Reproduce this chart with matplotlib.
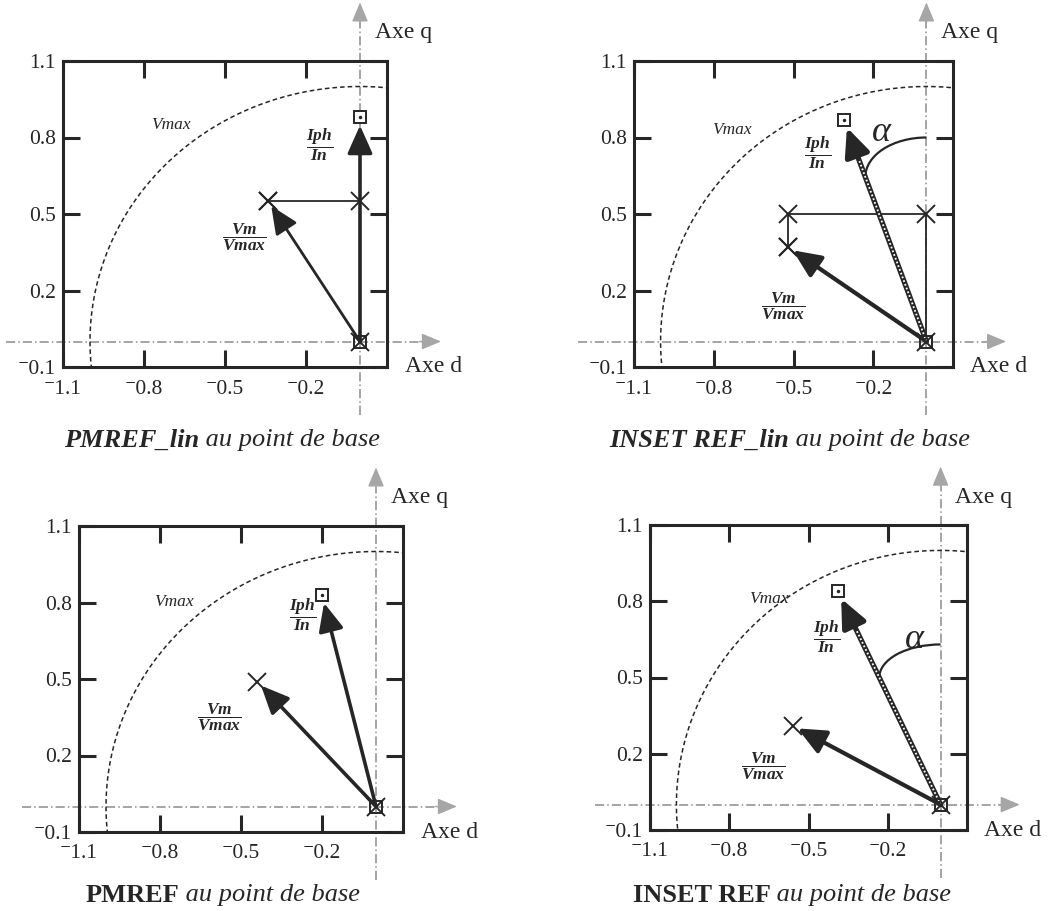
import numpy as np
import matplotlib
matplotlib.use("Agg")
import matplotlib.pyplot as plt
from matplotlib.patches import Arc

plt.rcParams['font.family'] = ['Liberation Serif', 'DejaVu Serif']
plt.rcParams['mathtext.fontset'] = 'custom'
plt.rcParams['mathtext.rm'] = 'Liberation Serif'
plt.rcParams['mathtext.it'] = 'Liberation Serif:bold:italic'
plt.rcParams['mathtext.bf'] = 'Liberation Serif:bold'

# --- donnees (axes d / q, en p.u.) ---
names = ["PMREF_lin", "INSET REF_lin", "PMREF", "INSET REF"]
names_italic = [True, True, False, False]
caption_rest = " au point de base"

iph_d = [0.0, -0.31, -0.20, -0.39]
iph_q = [0.88, 0.87, 0.83, 0.84]
vm_d = [-0.34, -0.52, -0.44, -0.56]
vm_q = [0.55, 0.37, 0.49, 0.31]

# construction (projections) pour les versions _lin
constr_d = [[0.0, 0.0, -0.34], [0.0, 0.0, -0.52, -0.52], [], []]
constr_q = [[0.0, 0.55, 0.55], [0.0, 0.50, 0.50, 0.37], [], []]

# angle alpha : hauteur sur l'axe q et hauteur sur le vecteur Iph
alpha_top = [None, 0.80, None, 0.63]
alpha_end = [None, 0.645, None, 0.50]

vmax = 1.0
xticks = [-1.1, -0.8, -0.5, -0.2]
yticks = [-0.1, 0.2, 0.5, 0.8, 1.1]

# --- mise en page (pixels de l'image 1052x911) ---
W, H = 1052, 911
boxes = [(63, 387, 61, 367), (634, 953, 61, 367),
         (79, 403, 526, 832), (650, 967, 525, 830)]
caption_x = [222, 790, 223, 792]
caption_y = [440, 440, 895, 895]
vmax_lbl = [(-0.70, 0.85), (-0.73, 0.83), (-0.75, 0.80), (-0.65, 0.81)]
iph_lbl = [(-0.15, 0.77), (-0.41, 0.74), (-0.27, 0.75), (-0.43, 0.66)]
vm_lbl = [(-0.43, 0.41), (-0.54, 0.14), (-0.58, 0.35), (-0.67, 0.15)]
alpha_lbl = [None, (-0.17, 0.82), None, (-0.10, 0.65)]
vm_lw = [2.0, 3.0, 2.6, 3.0]

dark = '#262626'
grey = '#8c8c8c'


def fmt(v):
    return ("\u207b" if v < 0 else "") + "%.1f" % abs(v)


fig = plt.figure(figsize=(W / 100, H / 100), dpi=100)

for i in range(4):
    l, r, t, b = boxes[i]
    ax = fig.add_axes([l / W, 1 - b / H, (r - l) / W, (b - t) / H])
    ax.set_xlim(-1.1, 0.1)
    ax.set_ylim(-0.1, 1.1)
    for s in ax.spines.values():
        s.set_linewidth(2.2)
        s.set_color(dark)
    ax.set_xticks(xticks)
    ax.set_xticklabels([fmt(v) for v in xticks])
    ax.set_yticks(yticks)
    ax.set_yticklabels([fmt(v) for v in yticks])
    ax.tick_params(direction='in', length=12, width=2.2, color=dark,
                   top=True, right=True, labelsize=15.5, labelcolor=dark)
    ax.tick_params(axis='x', pad=9)
    ax.tick_params(axis='y', pad=5)

    # axes d et q (grises, fleches)
    ax.plot([-1.31, 0.25], [0, 0], color=grey, lw=1.1,
            ls=(0, (6, 2, 1, 2)), clip_on=False, zorder=1)
    ax.plot([0, 0], [-0.29, 1.27], color=grey, lw=1.1,
            ls=(0, (6, 2, 1, 2)), clip_on=False, zorder=1)
    head = dict(arrowstyle='-|>,head_length=0.6,head_width=0.25',
                color='#a6a6a6', lw=1, mutation_scale=20,
                shrinkA=0, shrinkB=0)
    ax.annotate("", xy=(0.30, 0), xytext=(0.22, 0), arrowprops=head,
                annotation_clip=False)
    ax.annotate("", xy=(0, 1.33), xytext=(0, 1.25), arrowprops=head,
                annotation_clip=False)
    ax.text(0.055, 1.21, "Axe q", fontsize=17, color=dark, va='center',
            ha='left', clip_on=False)
    ax.text(0.165, -0.10, "Axe d", fontsize=17, color=dark, va='center',
            ha='left', clip_on=False)

    # cercle Vmax
    th = np.linspace(0, 2 * np.pi, 400)
    ax.plot(vmax * np.cos(th), vmax * np.sin(th), color=dark, lw=1.1,
            ls=(0, (3, 2)), zorder=2)
    ax.text(*vmax_lbl[i], "Vmax", fontsize=12.5, style='italic', color=dark,
            ha='center', va='center')

    # construction
    if constr_d[i]:
        ax.plot(constr_d[i], constr_q[i], color=dark, lw=1.3, zorder=3)
        ax.plot(constr_d[i][1:], constr_q[i][1:], ls='none', marker='x',
                ms=13, mew=1.4, color=dark, zorder=5)

    # vecteur Vm
    ax.annotate("", xy=(vm_d[i], vm_q[i]), xytext=(0, 0),
                arrowprops=dict(arrowstyle='-|>,head_length=0.85,head_width=0.38',
                                color=dark, lw=vm_lw[i], mutation_scale=20,
                                shrinkA=0, shrinkB=4), zorder=4)
    ax.plot([vm_d[i]], [vm_q[i]], ls='none', marker='x', ms=13, mew=1.4,
            color=dark, zorder=5)

    # vecteur Iph
    iph_lw = 3.8 if alpha_top[i] is not None else 2.6
    ax.annotate("", xy=(iph_d[i], iph_q[i]), xytext=(0, 0),
                arrowprops=dict(arrowstyle='-|>,head_length=0.85,head_width=0.38',
                                color=dark, lw=iph_lw, mutation_scale=20,
                                shrinkA=0, shrinkB=6), zorder=4)
    if alpha_top[i] is not None:
        ax.plot([0, iph_d[i] * 0.82], [0, iph_q[i] * 0.82], color='white',
                lw=1.3, ls=(0, (1, 1.2)), zorder=4.5)
    ax.plot([iph_d[i]], [iph_q[i]], ls='none', marker='s', ms=9, mew=1.4,
            mfc='white', color=dark, zorder=5)
    ax.plot([iph_d[i]], [iph_q[i]], ls='none', marker='.', ms=3,
            color=dark, zorder=6)

    # origine
    ax.plot([0], [0], ls='none', marker='s', ms=9, mew=1.4, mfc='none',
            color=dark, zorder=6)
    ax.plot([0], [0], ls='none', marker='x', ms=13, mew=1.4,
            color=dark, zorder=6)

    ax.text(*iph_lbl[i], r"$\dfrac{Iph}{In}$", fontsize=12.5, color=dark,
            ha='center', va='center')
    ax.text(*vm_lbl[i], r"$\dfrac{Vm}{Vmax}$", fontsize=12.5, color=dark,
            ha='center', va='center')

    # angle alpha
    if alpha_top[i] is not None:
        d_end = iph_d[i] * alpha_end[i] / iph_q[i]
        ax.add_patch(Arc((0, alpha_end[i]), 2 * abs(d_end),
                         2 * (alpha_top[i] - alpha_end[i]),
                         theta1=90, theta2=180, color=dark, lw=1.6, zorder=4))
        ax.text(*alpha_lbl[i], "\u03b1", fontsize=26, style='italic',
                color=dark, ha='center', va='center')

    # legende sous le graphe
    t1 = fig.text(0, 1 - caption_y[i] / H, names[i], fontsize=19,
                  weight='bold', style='italic' if names_italic[i] else 'normal',
                  color=dark, va='center', ha='left')
    t2 = fig.text(0, 1 - caption_y[i] / H, caption_rest, fontsize=19,
                  style='italic', color=dark, va='center', ha='left')
    ren = fig.canvas.get_renderer()
    w1 = t1.get_window_extent(ren).width
    w2 = t2.get_window_extent(ren).width
    x0 = caption_x[i] - (w1 + w2) / 2
    t1.set_x(x0 / W)
    t2.set_x((x0 + w1) / W)

fig.savefig("out.png", dpi=100, facecolor='white')
